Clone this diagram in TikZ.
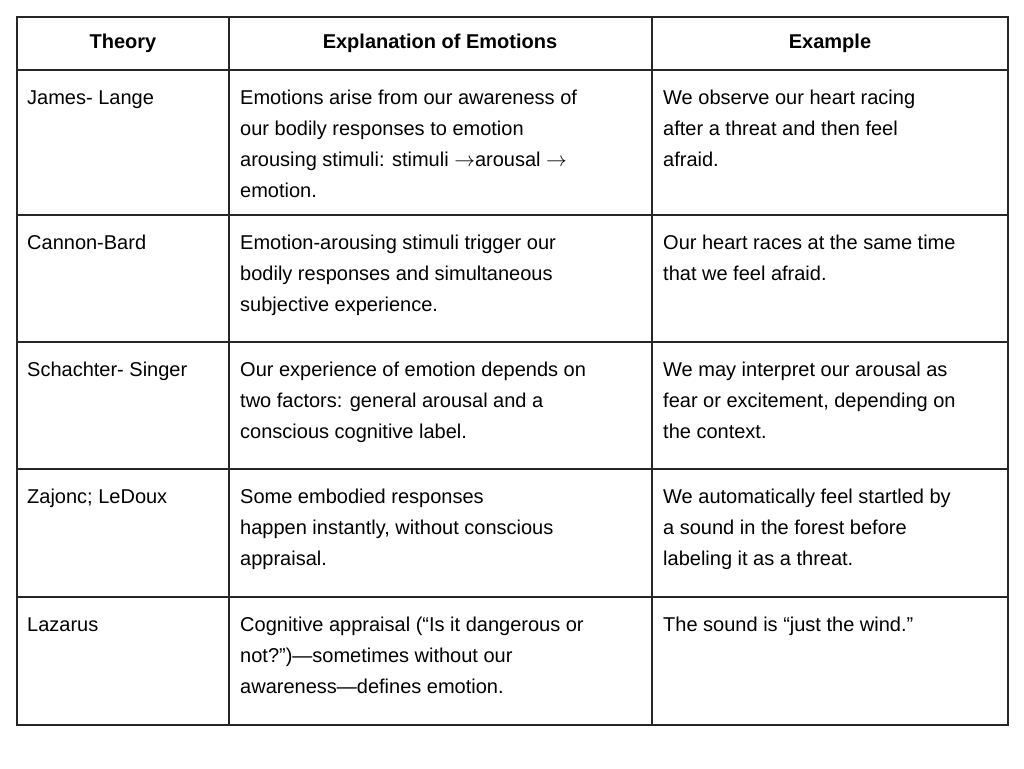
\documentclass[tikz,border=0pt]{standalone}
\usepackage{fontspec}
\setmainfont{Liberation Sans}
\begin{document}
\begin{tikzpicture}[x=1pt,y=-1pt,
  cell/.style={anchor=north west,inner sep=0pt,align=left,font=\fontsize{20}{31}\selectfont},
  head/.style={inner sep=0pt,font=\fontsize{20}{24}\selectfont\bfseries},
  grid/.style={draw=black!85,line width=1.3pt}]
\useasboundingbox (0,0) rectangle (1024,768);
\draw[grid] (17,17) rectangle (1008,725);
\foreach \x in {229,652} \draw[grid] (\x,17) -- (\x,725);
\foreach \y in {70,215,342,469,597} \draw[grid] (17,\y) -- (1008,\y);
\node[head] (h1) at (123,43) {Theory};
\node[head] (h2) at (440,43) {Explanation of Emotions};
\node[head] (h3) at (830,43) {Example};
% rows
\node[cell] (a1) at (27,89) {\rule{0pt}{15pt}James- Lange};
\node[cell] (b1) at (240,89) {\rule{0pt}{15pt}Emotions arise from our awareness of\\our bodily responses to emotion\\arousing stimuli: stimuli \(\rightarrow\)arousal \(\rightarrow\)\\emotion.};
\node[cell] (c1) at (663,89) {\rule{0pt}{15pt}We observe our heart racing\\after a threat and then feel\\afraid.};
\node[cell] (a2) at (27,234) {\rule{0pt}{15pt}Cannon-Bard};
\node[cell] (b2) at (240,234) {\rule{0pt}{15pt}Emotion-arousing stimuli trigger our\\bodily responses and simultaneous\\subjective experience.};
\node[cell] (c2) at (663,234) {\rule{0pt}{15pt}Our heart races at the same time\\that we feel afraid.};
\node[cell] (a3) at (27,361) {\rule{0pt}{15pt}Schachter- Singer};
\node[cell] (b3) at (240,361) {\rule{0pt}{15pt}Our experience of emotion depends on\\two factors: general arousal and a\\conscious cognitive label.};
\node[cell] (c3) at (663,361) {\rule{0pt}{15pt}We may interpret our arousal as\\fear or excitement, depending on\\the context.};
\node[cell] (a4) at (27,488) {\rule{0pt}{15pt}Zajonc; LeDoux};
\node[cell] (b4) at (240,488) {\rule{0pt}{15pt}Some embodied responses\\happen instantly, without conscious\\appraisal.};
\node[cell] (c4) at (663,488) {\rule{0pt}{15pt}We automatically feel startled by\\a sound in the forest before\\labeling it as a threat.};
\node[cell] (a5) at (27,616) {\rule{0pt}{15pt}Lazarus};
\node[cell] (b5) at (240,616) {\rule{0pt}{15pt}Cognitive appraisal (“Is it dangerous or\\not?”)—sometimes without our\\awareness—defines emotion.};
\node[cell] (c5) at (663,616) {\rule{0pt}{15pt}The sound is “just the wind.”};
\end{tikzpicture}
\end{document}
